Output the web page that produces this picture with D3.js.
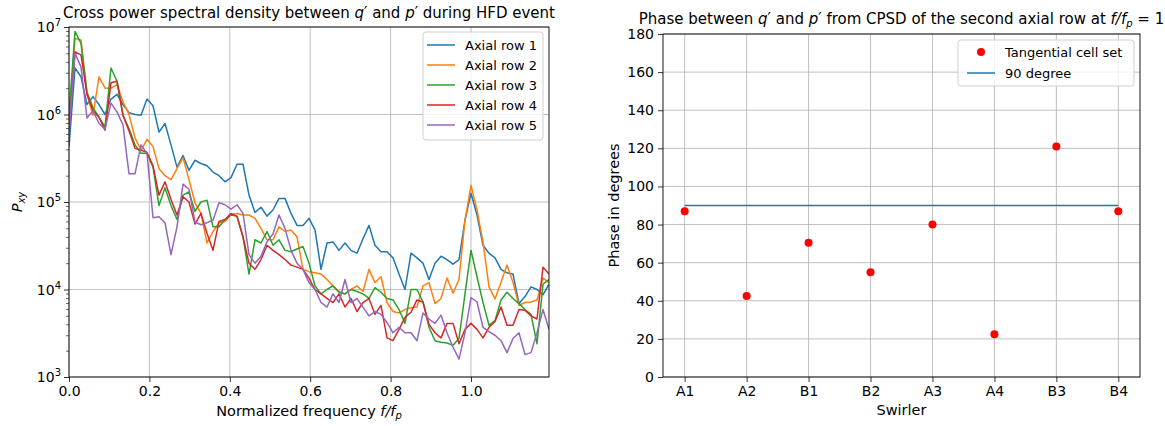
<!DOCTYPE html>
<html><head><meta charset="utf-8">
<script src="https://cdn.jsdelivr.net/npm/d3@7"></script>
<style>
body{margin:0;background:#fff}
text{font-family:"DejaVu Sans",sans-serif;fill:#000}
</style>
</head><body>
<svg id="c" width="1165" height="426"></svg>
<script>
// ---------- data ----------
const freqStep = 1 / 67;          // normalized frequency resolution
const nPoints = 81;
const seriesNames = ["Axial row 1","Axial row 2","Axial row 3","Axial row 4","Axial row 5"];
const seriesColors = ["#1f77b4","#ff7f0e","#2ca02c","#d62728","#9467bd"];
const row1 = [4.3e5,3.4e6,2.7e6,1.3e6,1.6e6,1.3e6,1.0e6,1.5e6,1.7e6,1.3e6,
1.05e6,1.0e6,9.8e5,1.5e6,1.26e6,6.3e5,7.9e5,4.5e5,2.5e5,3.4e5,
2.3e5,3.0e5,2.75e5,2.6e5,2.2e5,2.0e5,1.7e5,1.9e5,2.7e5,2.7e5,
1.2e5,7.6e4,8.7e4,6.9e4,8.1e4,1.1e5,1.1e5,7.4e4,5.4e4,5.4e4,
6.5e4,4.8e4,1.7e4,3.4e4,3.5e4,2.8e4,3.4e4,2.8e4,2.6e4,3.8e4,
5.4e4,3.2e4,2.7e4,2.7e4,2.3e4,1.5e4,1.0e4,2.6e4,2.3e4,2.0e4,
1.3e4,2.0e4,2.4e4,2.2e4,1.95e4,2.2e4,6.2e4,1.26e5,7.1e4,3.2e4,
2.6e4,2.3e4,1.7e4,1.55e4,1.5e4,6.9e3,8.3e3,1.07e4,1.0e4,8.7e3,
1.15e4];
const row2 = [8e5,7.4e6,7.1e6,1.7e6,9.8e5,2.7e6,2.0e6,2.0e6,2.2e6,1.4e6,
1.0e6,5.4e5,3.9e5,5.2e5,4.3e5,2.4e5,2.0e5,1.8e5,2.4e5,3.2e5,
1.8e5,9.8e4,7.4e4,3.4e4,4.6e4,5.8e4,6.0e4,7.2e4,7.4e4,7.1e4,
7.1e4,6.5e4,5.0e4,3.7e4,3.7e4,5.2e4,4.6e4,4.8e4,4.0e4,1.7e4,
1.6e4,1.55e4,1.5e4,1.3e4,1.1e4,9.5e3,8.9e3,1.0e4,1.1e4,9.5e3,
1.7e4,1.2e4,1.4e4,7.1e3,5.6e3,5.4e3,5.9e3,6.2e3,6.3e3,1.1e4,
1.2e4,6.9e3,7.9e3,1.35e4,9.1e3,1.3e4,6.2e4,1.55e5,8.1e4,3.5e4,
1.07e4,7.8e3,1.2e4,1.9e4,1.2e4,6.6e3,7.1e3,7.2e3,7.6e3,1.35e4,
1.2e4];
const row3 = [1.0e6,8.9e6,6.5e6,1.8e6,1.2e6,9.3e5,7.2e5,3.4e6,2.4e6,9.8e5,
6.9e5,4.5e5,3.6e5,3.6e5,2.5e5,9.1e4,1.45e5,9.1e4,6.3e4,1.2e5,
1.3e5,7.8e4,1.0e5,1.05e5,5.2e4,5.2e4,6.3e4,7.1e4,6.9e4,4.0e4,
1.5e4,3.7e4,3.4e4,4.6e4,3.2e4,3.7e4,2.8e4,2.7e4,2.9e4,3.1e4,
2.0e4,1.1e4,8.9e3,1.0e4,1.1e4,9.3e3,8.9e3,1.0e4,9.5e3,8.9e3,
7.9e3,1.05e4,9.3e3,7.9e3,7.6e3,5.9e3,4.1e3,1.0e4,1.0e4,7.2e3,
3.7e3,2.6e3,2.5e3,2.45e3,2.3e3,2.75e3,8.9e3,2.8e4,1.4e4,7.1e3,
3.9e3,4.4e3,7.6e3,9.3e3,7.9e3,6.9e3,5.9e3,5.2e3,2.4e3,1.15e4,
1.3e4];
const row4 = [6.3e5,5.2e6,4.8e6,1.7e6,1.1e6,9.3e5,6.6e5,2.3e6,2.4e6,9.8e5,
6.5e5,4.1e5,3.9e5,3.7e5,2.6e5,1.2e5,1.7e5,1.07e5,7.1e4,1.15e5,
1.0e5,5.6e4,7.4e4,4.4e4,2.8e4,6.0e4,6.3e4,7.4e4,6.8e4,4.0e4,
2.0e4,1.7e4,2.2e4,3.2e4,2.8e4,2.5e4,2.2e4,1.9e4,1.8e4,1.7e4,
1.35e4,1.0e4,8.9e3,7.9e3,7.1e3,8.9e3,6.3e3,7.9e3,5.6e3,7.1e3,
7.9e3,5.2e3,6.6e3,2.8e3,2.6e3,3.5e3,4.8e3,5.5e3,7.6e3,7.2e3,
4.0e3,3.2e3,2.8e3,4.1e3,4.1e3,2.4e3,3.5e3,4.1e3,3.5e3,2.8e3,
3.7e3,4.3e3,6.3e3,3.9e3,3.9e3,5.9e3,5.8e3,5.0e3,4.6e3,1.8e4,
1.5e4];
const row5 = [6.3e5,5.0e6,3.5e6,9.1e5,1.1e6,7.9e5,6.8e5,1.35e6,1.07e6,7.6e5,
2.1e5,2.1e5,4.5e5,3.6e5,6.6e4,6.8e4,5.8e4,2.5e4,5.2e4,1.6e5,
1.4e5,5.9e4,5.5e4,5.8e4,6.2e4,9.8e4,9.3e4,8.3e4,9.3e4,7.4e4,
2.5e4,2.0e4,2.4e4,3.5e4,4.3e4,7.1e4,5.0e4,2.8e4,2.0e4,1.7e4,
1.2e4,1.0e4,7.1e3,6.3e3,8.9e3,7.1e3,1.3e4,7.1e3,7.9e3,6.3e3,
5.0e3,5.6e3,5.2e3,4.2e3,3.2e3,3.7e3,3.2e3,3.2e3,2.6e3,5.4e3,
4.6e3,4.1e3,5.1e3,3.2e3,2.2e3,1.6e3,3.2e3,8.1e3,7.2e3,3.7e3,
3.3e3,3.0e3,2.6e3,1.9e3,2.75e3,3.2e3,1.8e3,1.9e3,3.2e3,5.9e3,
3.5e3];
const leftXTicks = [0, 0.2, 0.4, 0.6, 0.8, 1.0];
const leftYDecades = [1e3, 1e4, 1e5, 1e6, 1e7];

const swirlers = ["A1","A2","B1","B2","A3","A4","B3","B4"];
const phaseDeg = [87, 42.5, 70.5, 55, 80, 22.5, 121, 87];
const referenceDeg = 90;
const rightYTicks = [0,20,40,60,80,100,120,140,160,180];

// ---------- setup ----------
const svg = d3.select("#c");
const gridColor = "#b0b0b0";
const FS = 14;      // tick labels
const FL = 13;      // legend
const FA = 14.5;    // axis labels
const FT = 15;      // titles

const freqs = d3.range(nPoints).map(i => i * freqStep);
const rows = [row1,row2,row3,row4,row5];

// ===== LEFT PANEL =====
const L = {l:69, r:549, t:27, b:377};
const x1 = d3.scaleLinear().domain([0, (nPoints-1)*freqStep]).range([L.l, L.r]);
const y1 = d3.scaleLog().domain([1e3, 1e7]).range([L.b, L.t]);

const gL = svg.append("g");
gL.append("g").selectAll("line").data(leftXTicks).join("line")
  .attr("x1", d=>x1(d)).attr("x2", d=>x1(d)).attr("y1", L.t).attr("y2", L.b)
  .attr("stroke", gridColor).attr("stroke-width", 0.8);
gL.append("g").selectAll("line").data(leftYDecades).join("line")
  .attr("x1", L.l).attr("x2", L.r).attr("y1", d=>y1(d)).attr("y2", d=>y1(d))
  .attr("stroke", gridColor).attr("stroke-width", 0.8);

svg.append("clipPath").attr("id","clipL").append("rect")
  .attr("x", L.l).attr("y", L.t).attr("width", L.r-L.l).attr("height", L.b-L.t);
const line1 = d3.line().x((d,i)=>x1(freqs[i])).y(d=>y1(d));
gL.append("g").attr("clip-path","url(#clipL)").selectAll("path").data(rows).join("path")
  .attr("d", d=>line1(d)).attr("fill","none")
  .attr("stroke", (d,i)=>seriesColors[i]).attr("stroke-width", 1.5)
  .attr("stroke-linejoin","round");

const xAxL = gL.append("g").attr("transform", `translate(0,${L.b})`)
  .call(d3.axisBottom(x1).tickValues(leftXTicks).tickFormat(d3.format(".1f")).tickSize(5).tickPadding(4));
xAxL.select(".domain").remove();
xAxL.selectAll("text").attr("font-size", FS).attr("font-family","DejaVu Sans");
xAxL.selectAll("line").attr("stroke","#000").attr("stroke-width",0.8);

const minorVals = [];
leftYDecades.slice(0,-1).forEach(dd => { for (let k=2;k<=9;k++) minorVals.push(dd*k); });
const yMinor = gL.append("g").attr("transform", `translate(${L.l},0)`)
  .call(d3.axisLeft(y1).tickValues(minorVals).tickFormat("").tickSize(3));
yMinor.select(".domain").remove();
yMinor.selectAll("line").attr("stroke","#000").attr("stroke-width",0.6);
const yMajor = gL.append("g").attr("transform", `translate(${L.l},0)`)
  .call(d3.axisLeft(y1).tickValues(leftYDecades).tickFormat("").tickSize(5));
yMajor.select(".domain").remove();
yMajor.selectAll("line").attr("stroke","#000").attr("stroke-width",0.8);
leftYDecades.forEach(v => {
  const t = gL.append("text").attr("x", L.l-8).attr("y", y1(v)+5)
    .attr("text-anchor","end").attr("font-size", FS);
  t.append("tspan").text("10");
  t.append("tspan").attr("dy",-6).attr("font-size",10).text(String(Math.round(Math.log10(v))));
});

gL.append("rect").attr("x",L.l).attr("y",L.t).attr("width",L.r-L.l).attr("height",L.b-L.t)
  .attr("fill","none").attr("stroke","#000").attr("stroke-width",0.9);

{
  const t = gL.append("text").attr("x",(L.l+L.r)/2).attr("y",18).attr("text-anchor","middle").attr("font-size",FT);
  t.append("tspan").text("Cross power spectral density between ");
  t.append("tspan").attr("font-style","italic").text("q");
  t.append("tspan").text("′ and ");
  t.append("tspan").attr("font-style","italic").text("p");
  t.append("tspan").text("′ during HFD event");
}
{
  const t = gL.append("text").attr("x",(L.l+L.r)/2).attr("y",416).attr("text-anchor","middle").attr("font-size",FA);
  t.append("tspan").text("Normalized frequency ");
  t.append("tspan").attr("font-style","italic").text("f/f");
  t.append("tspan").attr("font-style","italic").attr("font-size",10).attr("dy",3).text("p");
}
{
  const t = gL.append("text").attr("transform",`translate(22,${(L.t+L.b)/2}) rotate(-90)`)
    .attr("text-anchor","middle").attr("font-size",FA);
  t.append("tspan").attr("font-style","italic").text("P");
  t.append("tspan").attr("font-style","italic").attr("font-size",10).attr("dy",3).text("xy");
}

{
  const lg = gL.append("g");
  lg.append("rect").attr("x",423).attr("y",32).attr("width",120).attr("height",108).attr("rx",3)
    .attr("fill","#fff").attr("fill-opacity",0.8).attr("stroke","#d0d0d0");
  seriesNames.forEach((nm,i) => {
    const yy = 45 + i*20;
    lg.append("line").attr("x1",427).attr("x2",455).attr("y1",yy).attr("y2",yy)
      .attr("stroke",seriesColors[i]).attr("stroke-width",1.5);
    lg.append("text").attr("x",465).attr("y",yy).attr("dy","0.36em").attr("font-size",FL).text(nm);
  });
}

// ===== RIGHT PANEL =====
const R = {l:663, r:1140, t:34, b:377};
const x2 = d3.scalePoint().domain(swirlers).range([R.l, R.r]).padding(0.35);
const y2 = d3.scaleLinear().domain([0,180]).range([R.b, R.t]);
const gR = svg.append("g");

gR.append("g").selectAll("line").data(swirlers).join("line")
  .attr("x1", d=>x2(d)).attr("x2", d=>x2(d)).attr("y1", R.t).attr("y2", R.b)
  .attr("stroke", gridColor).attr("stroke-width", 0.8);
gR.append("g").selectAll("line").data(rightYTicks).join("line")
  .attr("x1", R.l).attr("x2", R.r).attr("y1", d=>y2(d)).attr("y2", d=>y2(d))
  .attr("stroke", gridColor).attr("stroke-width", 0.8);

gR.append("path")
  .attr("d", d3.line().x(d=>x2(d)).y(()=>y2(referenceDeg))(swirlers))
  .attr("fill","none").attr("stroke","#1f77b4").attr("stroke-width",1.5);
gR.append("g").selectAll("circle").data(phaseDeg).join("circle")
  .attr("cx",(d,i)=>x2(swirlers[i])).attr("cy",d=>y2(d)).attr("r",4).attr("fill","#ff0000");

const xAxR = gR.append("g").attr("transform",`translate(0,${R.b})`)
  .call(d3.axisBottom(x2).tickSize(5).tickPadding(4));
xAxR.select(".domain").remove();
xAxR.selectAll("text").attr("font-size",FS).attr("font-family","DejaVu Sans");
xAxR.selectAll("line").attr("stroke","#000").attr("stroke-width",0.8);
const yAxR = gR.append("g").attr("transform",`translate(${R.l},0)`)
  .call(d3.axisLeft(y2).tickValues(rightYTicks).tickSize(5).tickPadding(4));
yAxR.select(".domain").remove();
yAxR.selectAll("text").attr("font-size",FS).attr("font-family","DejaVu Sans");
yAxR.selectAll("line").attr("stroke","#000").attr("stroke-width",0.8);

gR.append("rect").attr("x",R.l).attr("y",R.t).attr("width",R.r-R.l).attr("height",R.b-R.t)
  .attr("fill","none").attr("stroke","#000").attr("stroke-width",0.9);

{
  const t = gR.append("text").attr("x",(R.l+R.r)/2).attr("y",24).attr("text-anchor","middle").attr("font-size",FT);
  t.append("tspan").text("Phase between ");
  t.append("tspan").attr("font-style","italic").text("q");
  t.append("tspan").text("′ and ");
  t.append("tspan").attr("font-style","italic").text("p");
  t.append("tspan").text("′ from CPSD of the second axial row at ");
  t.append("tspan").attr("font-style","italic").text("f/f");
  t.append("tspan").attr("font-style","italic").attr("font-size",10).attr("dy",3).text("p");
  t.append("tspan").attr("dy",-3).text(" = 1");
}
gR.append("text").attr("x",(R.l+R.r)/2).attr("y",415).attr("text-anchor","middle").attr("font-size",FA).text("Swirler");
gR.append("text").attr("transform",`translate(619,${(R.t+R.b)/2}) rotate(-90)`)
  .attr("text-anchor","middle").attr("font-size",FA).text("Phase in degrees");

{
  const lg = gR.append("g");
  lg.append("rect").attr("x",958).attr("y",40).attr("width",176).attr("height",46).attr("rx",3)
    .attr("fill","#fff").attr("fill-opacity",0.8).attr("stroke","#d0d0d0");
  lg.append("circle").attr("cx",981).attr("cy",52).attr("r",4).attr("fill","#ff0000");
  lg.append("text").attr("x",1005).attr("y",52).attr("dy","0.36em").attr("font-size",FL).text("Tangential cell set");
  lg.append("line").attr("x1",967).attr("x2",995).attr("y1",73).attr("y2",73).attr("stroke","#1f77b4").attr("stroke-width",1.5);
  lg.append("text").attr("x",1005).attr("y",73).attr("dy","0.36em").attr("font-size",FL).text("90 degree");
}
</script>
</body></html>
